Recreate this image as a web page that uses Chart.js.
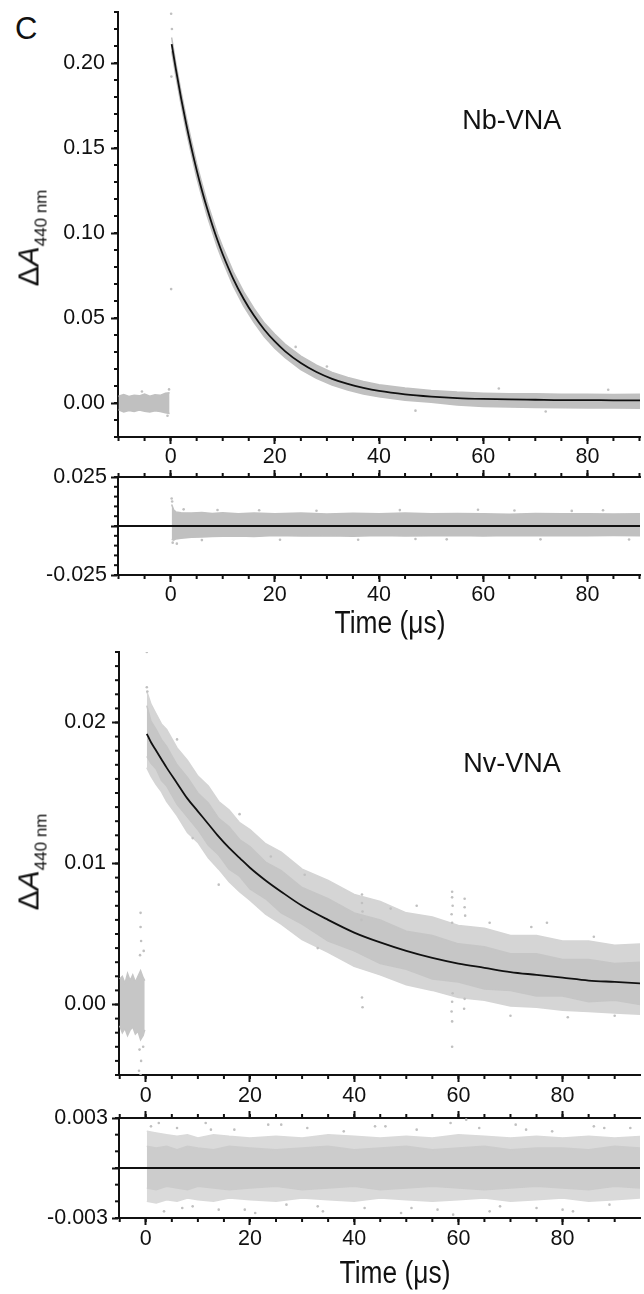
<!DOCTYPE html>
<html>
<head>
<meta charset="utf-8">
<title>Nb-VNA / Nv-VNA transient absorption</title>
<script src="https://cdn.jsdelivr.net/npm/chart.js@4.4.1/dist/chart.umd.min.js"></script>
<style>
  html, body { margin: 0; padding: 0; background: #fff; }
  body { position: relative; width: 644px; height: 1294px; overflow: hidden;
         font-family: "Liberation Sans", Arial, sans-serif; color: #111; }
  canvas { position: absolute; left: 0; }
  .txt { position: absolute; line-height: 1; white-space: nowrap; }
  .ytitle { position: absolute; line-height: 30px; white-space: nowrap;
            transform: translate(-50%, -50%) rotate(-90deg); }
  .ytitle .big { font-size: 30px; }
  .ytitle .sub { font-size: 17px; position: relative; top: 8px; }
  .xtitle { position: absolute; line-height: 1; font-size: 31px; white-space: nowrap;
            transform: translate(-50%, -50%) scaleX(0.85); }
</style>
</head>
<body>
<div class="txt" style="left:15px;top:13px;font-size:31px;">C</div>

<canvas id="nbMain" width="644" height="470" style="top:0px"></canvas>
<canvas id="nbRes" width="644" height="160" style="top:455px"></canvas>
<canvas id="nvMain" width="644" height="480" style="top:630px"></canvas>
<canvas id="nvRes" width="644" height="162" style="top:1096px"></canvas>

<div class="ytitle" style="left:31px;top:238px;"><span class="big">&Delta;<i>A</i></span><span class="sub">440 nm</span></div>
<div class="ytitle" style="left:31px;top:862px;"><span class="big">&Delta;<i>A</i></span><span class="sub">440 nm</span></div>
<div class="xtitle" style="left:390px;top:622px;">Time (&mu;s)</div>
<div class="xtitle" style="left:395px;top:1272px;">Time (&mu;s)</div>

<script>
// ---- values ----

// ticks
const xMajor = [0, 20, 40, 60, 80];
const xLabels = ['0', '20', '40', '60', '80'];
const nbYMajor = [0, 0.05, 0.10, 0.15, 0.20];
const nbYLabels = ['0.00', '0.05', '0.10', '0.15', '0.20'];
const nbResMajor = [-0.025, 0, 0.025];
const nbResLabels = ['-0.025', '', '0.025'];
const nvYMajor = [0, 0.01, 0.02];
const nvYLabels = ['0.00', '0.01', '0.02'];
const nvResMajor = [-0.003, 0, 0.003];
const nvResLabels = ['-0.003', '', '0.003'];

// Nb-VNA: baseline before the flash (grey band edges)
const nbPreT  = [-10, -9, -8, -7, -6, -5, -4, -3, -2, -1, -0.2];
const nbPreHi = [0.0040, 0.0050, 0.0038, 0.0046, 0.0042, 0.0052, 0.0040, 0.0048, 0.0045, 0.0058, 0.0060];
const nbPreLo = [-0.0040, -0.0052, -0.0044, -0.0050, -0.0041, -0.0048, -0.0053, -0.0045, -0.0050, -0.0058, -0.0062];

// Nb-VNA: decay, grey band edges and black fit
const nbT   = [0.2, 1, 2, 3, 4, 5, 6, 7, 8, 9, 10, 12, 14, 16, 18, 20, 22, 25, 28, 31, 34, 37, 40, 45, 50, 55, 60, 65, 70, 75, 80, 85, 91];
const nbHi  = [0.2150, 0.2000, 0.1832, 0.1678, 0.1540, 0.1408, 0.1293, 0.1183, 0.1088, 0.0995, 0.0917, 0.0773, 0.0655, 0.0556, 0.0470, 0.0404, 0.0345, 0.0276, 0.0222, 0.0180, 0.0150, 0.0127, 0.0108, 0.0088, 0.0074, 0.0064, 0.0058, 0.0055, 0.0054, 0.0051, 0.0052, 0.0050, 0.0051];
const nbLo  = [0.2070, 0.1925, 0.1758, 0.1600, 0.1462, 0.1328, 0.1214, 0.1103, 0.1008, 0.0915, 0.0835, 0.0690, 0.0572, 0.0475, 0.0390, 0.0322, 0.0266, 0.0197, 0.0145, 0.0105, 0.0076, 0.0053, 0.0036, 0.0016, 0.0004, -0.0012, -0.0020, -0.0024, -0.0027, -0.0028, -0.0030, -0.0030, -0.0031];
const nbFit = [0.2111, 0.1965, 0.1795, 0.1640, 0.1499, 0.1370, 0.1252, 0.1145, 0.1047, 0.0957, 0.0875, 0.0732, 0.0613, 0.0514, 0.0431, 0.0362, 0.0304, 0.0235, 0.0182, 0.0142, 0.0112, 0.0089, 0.0071, 0.0051, 0.0038, 0.0029, 0.0024, 0.0021, 0.0019, 0.0017, 0.0017, 0.0016, 0.0016];
const nbOutT = [0.1, 0.15, 0.1, 0.25, -0.3, -0.6, -5.5, 47, 63, 72, 84, 30, 24];
const nbOutY = [0.2290, 0.1920, 0.0670, 0.2200, 0.0080, -0.0075, 0.0068, -0.0045, 0.0085, -0.0050, 0.0078, 0.0215, 0.0330];
const nbLabelPos = [65.5, 0.1653];

// Nb-VNA residuals
const nbResT  = [0.2, 0.6, 1, 2, 4, 6, 8, 10, 13, 16, 20, 25, 30, 35, 40, 45, 50, 55, 60, 65, 70, 75, 80, 85, 91];
const nbResHi = [0.0110, 0.0082, 0.0072, 0.0068, 0.0066, 0.0069, 0.0064, 0.0067, 0.0063, 0.0066, 0.0062, 0.0066, 0.0061, 0.0065, 0.0063, 0.0066, 0.0062, 0.0064, 0.0063, 0.0060, 0.0064, 0.0062, 0.0063, 0.0061, 0.0063];
const nbResLo = [-0.0068, -0.0072, -0.0066, -0.0063, -0.0058, -0.0056, -0.0054, -0.0052, -0.0051, -0.0053, -0.0049, -0.0051, -0.0050, -0.0052, -0.0049, -0.0051, -0.0050, -0.0048, -0.0051, -0.0049, -0.0050, -0.0048, -0.0050, -0.0049, -0.0050];
const nbResOutT = [0.2, 0.3, 0.4, 1.2, 2.5, 9, 17, 28, 36, 44, 53, 66, 77, 88, 6, 21, 47, 59, 71, 83];
const nbResOutY = [0.0140, 0.0125, -0.0085, -0.0090, 0.0085, 0.0082, 0.0080, 0.0078, -0.0070, 0.0081, -0.0068, 0.0079, 0.0077, -0.0069, -0.0072, -0.0070, -0.0066, 0.0083, -0.0068, 0.0080];
const nbZeroT = [-10.1, 90.1];
const nbZeroY = [0, 0];

// Nv-VNA: baseline before the flash
const nvPreT  = [-5, -4.5, -4, -3.5, -3, -2.5, -2, -1.5, -1, -0.5, -0.2];
const nvPreHi = [0.0018, 0.0020, 0.0015, 0.0022, 0.0017, 0.0021, 0.0016, 0.0020, 0.0024, 0.0019, 0.0017];
const nvPreLo = [-0.0015, -0.0020, -0.0017, -0.0022, -0.0018, -0.0016, -0.0021, -0.0019, -0.0025, -0.0022, -0.0018];

// Nv-VNA: decay — dense core, sparse fringe, black fit
const nvT      = [0.2, 1, 2, 3, 4, 6, 8, 10, 12, 14, 16, 18, 20, 23, 26, 30, 35, 40, 45, 50, 55, 60, 65, 70, 75, 80, 85, 90, 95];
const nvCoreHi = [0.0212, 0.0201, 0.0195, 0.0188, 0.0183, 0.0170, 0.0161, 0.0150, 0.0143, 0.0132, 0.0126, 0.0117, 0.0112, 0.0101, 0.0095, 0.0083, 0.0075, 0.0065, 0.0060, 0.0052, 0.0049, 0.0043, 0.0041, 0.0036, 0.0036, 0.0032, 0.0032, 0.0029, 0.0030];
const nvCoreLo = [0.0176, 0.0171, 0.0167, 0.0159, 0.0155, 0.0142, 0.0133, 0.0124, 0.0113, 0.0106, 0.0096, 0.0091, 0.0082, 0.0075, 0.0065, 0.0057, 0.0045, 0.0038, 0.0029, 0.0025, 0.0018, 0.0016, 0.0011, 0.0010, 0.0006, 0.0006, 0.0002, 0.0003, 0.0000];
const nvOutHi  = [0.0222, 0.0213, 0.0206, 0.0199, 0.0195, 0.0182, 0.0173, 0.0162, 0.0155, 0.0144, 0.0138, 0.0129, 0.0124, 0.0114, 0.0108, 0.0096, 0.0088, 0.0078, 0.0073, 0.0065, 0.0062, 0.0056, 0.0054, 0.0049, 0.0049, 0.0045, 0.0045, 0.0042, 0.0043];
const nvOutLo  = [0.0168, 0.0162, 0.0156, 0.0151, 0.0144, 0.0134, 0.0122, 0.0115, 0.0104, 0.0096, 0.0087, 0.0080, 0.0074, 0.0064, 0.0057, 0.0046, 0.0037, 0.0027, 0.0021, 0.0014, 0.0010, 0.0005, 0.0003, -0.0001, -0.0002, -0.0004, -0.0005, -0.0006, -0.0007];
const nvFit    = [0.0192, 0.0186, 0.0180, 0.0174, 0.0168, 0.0157, 0.0146, 0.0137, 0.0128, 0.0119, 0.0111, 0.0104, 0.0097, 0.0088, 0.0080, 0.0070, 0.0060, 0.0051, 0.0044, 0.0038, 0.0033, 0.0029, 0.0026, 0.0023, 0.0021, 0.0019, 0.0017, 0.0016, 0.0015];
const nvOutT = [-1, -1, -0.9, -1.1, -1.2, -0.9, -1.3, -1.0, -0.5, -0.4, 0.2, 0.2, 0.3,
                41.5, 41.5, 41.6, 41.4, 41.5, 41.6,
                58.8, 58.8, 58.9, 58.7, 58.8, 58.9, 58.8, 58.7, 58.8, 58.8,
                61.2, 61.2, 61.3, 61.2, 61.1,
                14, 24, 30.5, 47, 74, 77, 86, 90, 70, 6, 9, 18, 33, 52, 66, 81];
const nvOutY = [0.0065, 0.0055, 0.0045, 0.0035, -0.0032, -0.0040, -0.0047, -0.0050, -0.0030, 0.0038, 0.0250, 0.0225, 0.0222,
                0.0078, 0.0072, 0.0066, 0.0060, 0.0005, -0.0002,
                0.0080, 0.0076, 0.0070, 0.0064, 0.0058, 0.0008, 0.0002, -0.0005, -0.0012, -0.0030,
                0.0075, 0.0069, 0.0063, 0.0004, -0.0003,
                0.0085, 0.0105, 0.0092, 0.0068, 0.0055, 0.0058, 0.0048, -0.0008, -0.0008, 0.0188, 0.0118, 0.0135, 0.0040, 0.0070, 0.0058, -0.0009];
const nvLabelPos = [70.3, 0.0170];

// Nv-VNA residuals
const nvResT      = [0.2, 2, 4, 6, 8, 10, 13, 16, 20, 25, 30, 35, 40, 45, 50, 55, 60, 65, 70, 75, 80, 85, 90, 95];
const nvResCoreHi = [0.0013, 0.0012, 0.0013, 0.0011, 0.0013, 0.0012, 0.0011, 0.0013, 0.0012, 0.0011, 0.0012, 0.0013, 0.0011, 0.0012, 0.0013, 0.0011, 0.0012, 0.0013, 0.0011, 0.0012, 0.0012, 0.0011, 0.0013, 0.0012];
const nvResCoreLo = [-0.0012, -0.0013, -0.0011, -0.0012, -0.0013, -0.0011, -0.0012, -0.0013, -0.0012, -0.0011, -0.0013, -0.0012, -0.0011, -0.0013, -0.0012, -0.0011, -0.0012, -0.0013, -0.0012, -0.0011, -0.0012, -0.0013, -0.0011, -0.0012];
const nvResHi = [0.0022, 0.0021, 0.0020, 0.0019, 0.0020, 0.0018, 0.0020, 0.0019, 0.0018, 0.0019, 0.0018, 0.0020, 0.0019, 0.0018, 0.0019, 0.0018, 0.0020, 0.0019, 0.0018, 0.0019, 0.0018, 0.0019, 0.0018, 0.0019];
const nvResLo = [-0.0020, -0.0021, -0.0019, -0.0020, -0.0018, -0.0019, -0.0020, -0.0018, -0.0019, -0.0020, -0.0018, -0.0019, -0.0020, -0.0018, -0.0019, -0.0020, -0.0019, -0.0018, -0.0020, -0.0019, -0.0018, -0.0020, -0.0019, -0.0018];
const nvResOutT = [1, 3.5, 6, 9, 11.5, 14, 17, 21, 23.5, 27, 31, 34, 38, 42, 46, 49, 52, 56, 59, 61.5, 64, 68, 71, 75, 78, 82, 86, 89, 93, 2.5, 7, 12.5, 19, 26, 33, 44, 51, 58.5, 66, 73, 80, 88];
const nvResOutY = [0.0025, -0.0026, 0.0024, -0.0023, 0.0027, -0.0025, 0.0023, -0.0027, 0.0026, -0.0022, 0.0024, -0.0026, 0.0022, -0.0024, 0.0025, -0.0027, 0.0023, -0.0025, -0.0028, 0.0029, 0.0024, -0.0023, 0.0026, -0.0024, 0.0022, -0.0026, 0.0025, -0.0022, 0.0024, 0.0027, -0.0024, 0.0023, -0.0025, 0.0026, -0.0023, 0.0025, -0.0024, 0.0027, -0.0026, 0.0023, -0.0025, 0.0024];
const nvZeroT = [-5.2, 95];
const nvZeroY = [0, 0];

// ---- drawing ----
const FONT = '"Liberation Sans", Arial, sans-serif';
const INK = '#111';
const GREY = 'rgb(192,192,192)';
const CORE = 'rgb(198,198,198)';
const FRINGE = 'rgb(213,213,213)';

const pts = (xs, ys) => xs.map((x, i) => ({ x: x, y: ys[i] }));
const steps = (a, b, d) => {
  const out = [];
  for (let k = 0; a + k * d <= b + 1e-9; k++) out.push(+(a + k * d).toFixed(4));
  return out;
};

function band(xs, hi, lo, color, order) {
  return [
    { data: pts(xs, hi), borderColor: color, borderWidth: 1.5, pointRadius: 0, fill: '+1', backgroundColor: color, order: order || 3 },
    { data: pts(xs, lo), borderColor: color, borderWidth: 1.5, pointRadius: 0, fill: false, order: order || 3 }
  ];
}
function dots(xs, ys, color) {
  return { data: pts(xs, ys), showLine: false, pointRadius: 1.3, pointBorderWidth: 0,
           pointBackgroundColor: color, order: 2 };
}
function fitLine(xs, ys) {
  return { data: pts(xs, ys), borderColor: INK, borderWidth: 1.8, pointRadius: 0,
           cubicInterpolationMode: 'monotone', fill: false, order: 1 };
}

function axis(o) {
  const horiz = o.pos === 'bottom' || o.pos === 'top';
  return {
    type: 'linear', position: o.pos, min: o.min, max: o.max,
    afterFit: s => {
      if (horiz) s.height = o.size; else s.width = o.size;
      s.paddingTop = 0; s.paddingBottom = 0; s.paddingLeft = 0; s.paddingRight = 0;
    },
    afterBuildTicks: s => { s.ticks = o.major.map(v => ({ value: v })); },
    ticks: {
      display: !!o.labels, color: INK, font: { family: FONT, size: 21.5 },
      padding: o.pad === undefined ? 1 : o.pad, autoSkip: false, maxRotation: 0,
      callback: (v, i) => (o.labels ? o.labels[i] : '')
    },
    grid: { display: true, drawOnChartArea: false, drawTicks: true, tickLength: 7, tickWidth: 2, tickColor: INK },
    border: { display: true, color: INK, width: 2 }
  };
}

// short unlabelled ticks between the labelled ones
function minorTicks(list) {
  return {
    id: 'minorTicks',
    afterDraw(chart) {
      const ctx = chart.ctx;
      ctx.save();
      ctx.strokeStyle = INK;
      ctx.lineWidth = 2;
      list.forEach(m => {
        const s = chart.scales[m.axis];
        m.values.forEach(v => {
          const p = s.getPixelForValue(v);
          ctx.beginPath();
          if (s.position === 'bottom') { ctx.moveTo(p, s.top); ctx.lineTo(p, s.top + 4); }
          else if (s.position === 'top') { ctx.moveTo(p, s.bottom); ctx.lineTo(p, s.bottom - 4); }
          else { ctx.moveTo(s.right, p); ctx.lineTo(s.right - 4, p); }
          ctx.stroke();
        });
      });
      ctx.restore();
    }
  };
}

function panelLabel(text, pos) {
  return {
    id: 'panelLabel',
    afterDatasetsDraw(chart) {
      const ctx = chart.ctx;
      ctx.save();
      ctx.fillStyle = INK;
      ctx.font = '27px ' + FONT;
      ctx.textAlign = 'center';
      ctx.textBaseline = 'middle';
      ctx.fillText(text, chart.scales.x.getPixelForValue(pos[0]), chart.scales.y.getPixelForValue(pos[1]));
      ctx.restore();
    }
  };
}

function makeChart(id, padTop, scales, datasets, plugins) {
  return new Chart(document.getElementById(id), {
    type: 'line',
    data: { datasets: datasets },
    options: {
      responsive: false,
      animation: false,
      events: [],
      layout: { padding: { top: padTop, right: 0, bottom: 0, left: 0 } },
      plugins: { legend: { display: false }, tooltip: { enabled: false } },
      scales: scales
    },
    plugins: plugins
  });
}

// Nb-VNA transient
makeChart('nbMain', 12, {
  x: axis({ pos: 'bottom', min: -10.1, max: 90.1, size: 33, major: xMajor, labels: xLabels, pad: 0 }),
  y: axis({ pos: 'left', min: -0.02, max: 0.23, size: 118, major: nbYMajor, labels: nbYLabels, pad: 6 })
}, [
  fitLine(nbT, nbFit),
  dots(nbOutT, nbOutY, GREY),
  ...band(nbPreT, nbPreHi, nbPreLo, GREY),
  ...band(nbT, nbHi, nbLo, GREY)
], [
  minorTicks([{ axis: 'x', values: steps(-10, 90, 5) }, { axis: 'y', values: steps(-0.02, 0.23, 0.01) }]),
  panelLabel('Nb-VNA', nbLabelPos)
]);

// Nb-VNA residuals
makeChart('nbRes', 0, {
  x: axis({ pos: 'bottom', min: -10.1, max: 90.1, size: 40, major: xMajor, labels: xLabels, pad: 0 }),
  xTop: axis({ pos: 'top', min: -10.1, max: 90.1, size: 22, major: xMajor, labels: null }),
  y: axis({ pos: 'left', min: -0.025, max: 0.025, size: 118, major: nbResMajor, labels: nbResLabels, pad: 4 })
}, [
  fitLine(nbZeroT, nbZeroY),
  dots(nbResOutT, nbResOutY, GREY),
  ...band(nbResT, nbResHi, nbResLo, GREY)
], [
  minorTicks([
    { axis: 'x', values: steps(-10, 90, 5) },
    { axis: 'xTop', values: steps(-10, 90, 5) },
    { axis: 'y', values: steps(-0.025, 0.025, 0.005) }
  ])
]);

// Nv-VNA transient
makeChart('nvMain', 22, {
  x: axis({ pos: 'bottom', min: -5.14, max: 94.86, size: 35, major: xMajor, labels: xLabels, pad: 1 }),
  y: axis({ pos: 'left', min: -0.005, max: 0.025, size: 119, major: nvYMajor, labels: nvYLabels, pad: 6 })
}, [
  fitLine(nvT, nvFit),
  dots(nvOutT, nvOutY, GREY),
  ...band(nvPreT, nvPreHi, nvPreLo, CORE, 3),
  ...band(nvT, nvCoreHi, nvCoreLo, CORE, 3),
  ...band(nvT, nvOutHi, nvOutLo, FRINGE, 4)
], [
  minorTicks([{ axis: 'x', values: steps(-5, 90, 5) }, { axis: 'y', values: steps(-0.005, 0.025, 0.001) }]),
  panelLabel('Nv-VNA', nvLabelPos)
]);

// Nv-VNA residuals
makeChart('nvRes', 0, {
  x: axis({ pos: 'bottom', min: -5.14, max: 94.86, size: 40, major: xMajor, labels: xLabels, pad: 1 }),
  xTop: axis({ pos: 'top', min: -5.14, max: 94.86, size: 22, major: xMajor, labels: null }),
  y: axis({ pos: 'left', min: -0.003, max: 0.003, size: 119, major: nvResMajor, labels: nvResLabels, pad: 4 })
}, [
  fitLine(nvZeroT, nvZeroY),
  dots(nvResOutT, nvResOutY, GREY),
  ...band(nvResT, nvResCoreHi, nvResCoreLo, 'rgb(204,204,204)', 3),
  ...band(nvResT, nvResHi, nvResLo, 'rgb(218,218,218)', 4)
], [
  minorTicks([
    { axis: 'x', values: steps(-5, 90, 5) },
    { axis: 'xTop', values: steps(-5, 90, 5) },
    { axis: 'y', values: steps(-0.003, 0.003, 0.001) }
  ])
]);
</script>
</body>
</html>
